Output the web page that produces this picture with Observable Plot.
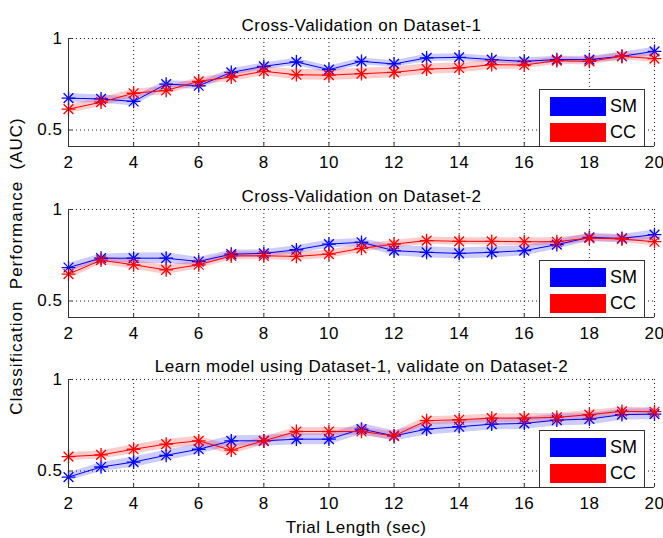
<!DOCTYPE html>
<html>
<head>
<meta charset="utf-8">
<script src="https://cdn.jsdelivr.net/npm/d3@7"></script>
<script src="https://cdn.jsdelivr.net/npm/@observablehq/plot@0.6"></script>
<style>
  html, body { margin: 0; padding: 0; background: #fff; }
  #root { position: relative; width: 663px; height: 538px; overflow: hidden; font-family: "Liberation Sans", Arial, sans-serif; }
  #root svg { position: absolute; left: 0; }
  #root svg text { letter-spacing: 0.5px; }
  .legend { position: absolute; width: 106px; height: 58px; border: 1px solid #333; background: #fff; box-sizing: border-box; }
  .legend .sw { position: absolute; left: 10px; width: 56px; height: 19px; }
  .legend .lb { position: absolute; left: 70px; font-size: 18px; line-height: 19px; color: #000; }
  .ylab { position: absolute; left: 17px; top: 266px; transform: translate(-50%, -50%) rotate(-90deg); white-space: pre; font-size: 17px; letter-spacing: 1px; }
  .xlab { position: absolute; left: 356px; top: 528px; transform: translate(-50%, -50%); white-space: pre; font-size: 17px; letter-spacing: 0.5px; }
</style>
</head>
<body>
<div id="root"></div>
<script>
// ---- data ----
const trialLength = [2, 3, 4, 5, 6, 7, 8, 9, 10, 11, 12, 13, 14, 15, 16, 17, 18, 19, 20];
const xTicks = [2, 4, 6, 8, 10, 12, 14, 16, 18, 20];
const yTicks = [0.5, 1];
const seriesNames = ["SM", "CC"];
const panelTitles = [
  "Cross-Validation on Dataset-1",
  "Cross-Validation on Dataset-2",
  "Learn model using Dataset-1, validate on Dataset-2"
];
const yLabel = "Classification  Performance  (AUC)";
const xLabel = "Trial Length (sec)";

// Panel 1
const p1SM    = [0.674, 0.670, 0.656, 0.751, 0.742, 0.815, 0.848, 0.872, 0.830, 0.875, 0.861, 0.894, 0.897, 0.885, 0.875, 0.885, 0.885, 0.903, 0.930];
const p1SMerr = [0.025, 0.022, 0.025, 0.020, 0.020, 0.020, 0.018, 0.020, 0.018, 0.018, 0.018, 0.020, 0.020, 0.018, 0.018, 0.018, 0.018, 0.022, 0.022];
const p1CC    = [0.614, 0.652, 0.701, 0.716, 0.766, 0.789, 0.821, 0.802, 0.800, 0.808, 0.815, 0.833, 0.839, 0.857, 0.855, 0.879, 0.875, 0.903, 0.890];
const p1CCerr = [0.022, 0.025, 0.022, 0.022, 0.020, 0.022, 0.025, 0.028, 0.030, 0.030, 0.030, 0.028, 0.028, 0.025, 0.022, 0.020, 0.020, 0.020, 0.020];
// Panel 2
const p2SM    = [0.683, 0.734, 0.734, 0.734, 0.716, 0.756, 0.760, 0.780, 0.811, 0.821, 0.775, 0.766, 0.760, 0.766, 0.775, 0.808, 0.848, 0.842, 0.863];
const p2SMerr = [0.022, 0.022, 0.028, 0.030, 0.022, 0.022, 0.020, 0.022, 0.022, 0.020, 0.028, 0.030, 0.030, 0.030, 0.028, 0.025, 0.022, 0.022, 0.025];
const p2CC    = [0.647, 0.723, 0.698, 0.670, 0.698, 0.747, 0.747, 0.744, 0.756, 0.788, 0.811, 0.830, 0.826, 0.826, 0.824, 0.824, 0.844, 0.839, 0.824];
const p2CCerr = [0.025, 0.022, 0.025, 0.025, 0.022, 0.022, 0.022, 0.022, 0.022, 0.022, 0.020, 0.020, 0.020, 0.020, 0.022, 0.022, 0.020, 0.020, 0.022];
// Panel 3
const p3SM    = [0.467, 0.522, 0.549, 0.586, 0.619, 0.665, 0.665, 0.674, 0.674, 0.729, 0.692, 0.729, 0.742, 0.756, 0.760, 0.778, 0.784, 0.808, 0.811];
const p3SMerr = [0.022, 0.025, 0.028, 0.028, 0.028, 0.028, 0.030, 0.030, 0.030, 0.030, 0.028, 0.032, 0.032, 0.032, 0.032, 0.032, 0.032, 0.030, 0.030];
const p3CC    = [0.579, 0.588, 0.619, 0.647, 0.665, 0.614, 0.665, 0.716, 0.716, 0.716, 0.692, 0.775, 0.780, 0.789, 0.789, 0.793, 0.808, 0.826, 0.824];
const p3CCerr = [0.022, 0.022, 0.025, 0.025, 0.025, 0.025, 0.022, 0.022, 0.022, 0.022, 0.022, 0.022, 0.022, 0.022, 0.022, 0.022, 0.022, 0.022, 0.022];

// ---- styling ----
const colors = {SM: "#0000ff", CC: "#ff0000"};
const yMin = 0.41, yMax = 1;
const panelTops = [0, 171, 341];
const M = {top: 38, bottom: 30, left: 68, right: 9};
const innerH = 108;
const H = M.top + innerH + M.bottom;

const panels = [
  [p1SM, p1SMerr, p1CC, p1CCerr],
  [p2SM, p2SMerr, p2CC, p2CCerr],
  [p3SM, p3SMerr, p3CC, p3CCerr]
];

function rows(vals, errs, name) {
  return trialLength.map((x, i) => ({x, y: vals[i], lo: vals[i] - errs[i], hi: vals[i] + errs[i], series: name}));
}

function seriesMarks(data, color) {
  return [
    Plot.line(data, {x: "x", y: "y", stroke: color, strokeWidth: 1}),
    Plot.dot(data, {x: "x", y: "y", symbol: "plus", stroke: color, r: 4.5, strokeWidth: 1.3}),
    Plot.dot(data, {x: "x", y: "y", symbol: "times", stroke: color, r: 4.5, strokeWidth: 1.3})
  ];
}

const root = document.getElementById("root");

panels.forEach((p, k) => {
  const sm = rows(p[0], p[1], seriesNames[0]);
  const cc = rows(p[2], p[3], seriesNames[1]);
  const chart = Plot.plot({
    width: 663,
    height: H,
    marginTop: M.top,
    marginBottom: M.bottom,
    marginLeft: M.left,
    marginRight: M.right,
    style: {fontFamily: "'Liberation Sans', Arial, sans-serif", fontSize: "17px", background: "transparent", overflow: "visible", color: "#000"},
    x: {domain: [trialLength[0], trialLength[trialLength.length - 1]]},
    y: {domain: [yMin, yMax]},
    marks: [
      Plot.gridX(xTicks, {stroke: "#000", strokeOpacity: 0.9, strokeDasharray: "1,3"}),
      Plot.gridY(yTicks, {stroke: "#000", strokeOpacity: 0.9, strokeDasharray: "1,3"}),
      Plot.areaY(sm, {x: "x", y1: "lo", y2: "hi", fill: colors.SM, fillOpacity: 0.2}),
      Plot.areaY(cc, {x: "x", y1: "lo", y2: "hi", fill: colors.CC, fillOpacity: 0.2}),
      ...seriesMarks(sm, colors.SM),
      ...seriesMarks(cc, colors.CC),
      Plot.ruleX([trialLength[0]], {stroke: "#333", strokeWidth: 1}),
      Plot.ruleY([yMin], {stroke: "#333", strokeWidth: 1}),
      Plot.ruleX(xTicks, {x: d => d, y1: yMin, y2: yMin + 0.02, stroke: "#333"}),
      Plot.ruleY(yTicks, {y: d => d, x1: trialLength[0], x2: trialLength[0] + 0.12, stroke: "#333"}),
      Plot.axisX({ticks: xTicks, tickSize: 0, tickPadding: 9, label: null}),
      Plot.axisY({ticks: yTicks, tickSize: 0, tickPadding: 6, label: null, tickFormat: d => String(d)}),
      Plot.text([panelTitles[k]], {frameAnchor: "top", dy: -20, fontSize: 17})
    ]
  });
  chart.style.top = panelTops[k] + "px";
  root.appendChild(chart);

  // legend box (bottom-right of the axes)
  const lg = document.createElement("div");
  lg.className = "legend";
  lg.style.left = "539px";
  lg.style.top = (panelTops[k] + M.top + innerH - 58 + 1) + "px";
  seriesNames.forEach((name, i) => {
    const sw = document.createElement("div");
    sw.className = "sw";
    sw.style.top = (7 + i * 26) + "px";
    sw.style.background = colors[name];
    const lb = document.createElement("div");
    lb.className = "lb";
    lb.style.top = (7 + i * 26) + "px";
    lb.textContent = name;
    lg.appendChild(sw);
    lg.appendChild(lb);
  });
  root.appendChild(lg);
});

const yl = document.createElement("div");
yl.className = "ylab";
yl.textContent = yLabel;
root.appendChild(yl);

const xl = document.createElement("div");
xl.className = "xlab";
xl.textContent = xLabel;
root.appendChild(xl);
</script>
</body>
</html>
